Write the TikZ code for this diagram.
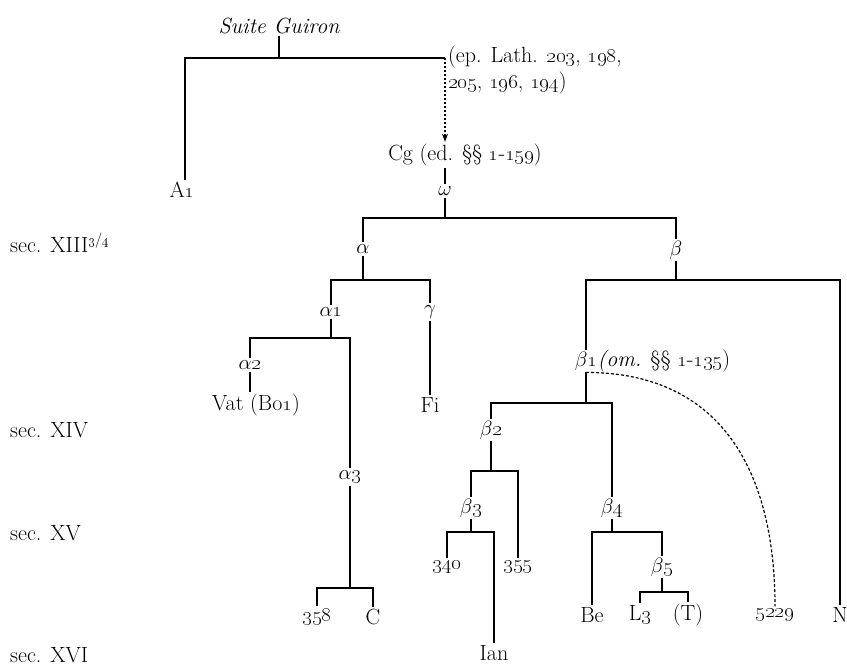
\documentclass[tikz,border=0pt]{standalone}
\usetikzlibrary{arrows.meta,positioning}
\newcommand{\os}[1]{\oldstylenums{#1}}
\tikzset{
  ms/.style={inner sep=2pt, font=\fontsize{22}{26}\selectfont},
  ital/.style={ms, font=\fontsize{22}{26}\selectfont\itshape},
  sec/.style={ms, anchor=west},
  stem/.style={line width=1.3pt, draw=black},
  guess/.style={line width=1.2pt, dash pattern=on 3pt off 2pt}
}

\begin{document}
\begin{tikzpicture}[x=1pt,y=-1pt]
  \useasboundingbox (0,0) rectangle (847,668);

  % centuries
  \node[sec] (s13) at (8,243) {sec. XIII\textsuperscript{\os{3}/\os{4}}};
  \node[sec] (s14) at (8,430) {sec. XIV};
  \node[sec] (s15) at (8,533) {sec. XV};
  \node[sec] (s16) at (8,655) {sec. XVI};

  % top of the stemma
  \node[ital] (suite) at (279,26) {Suite Guiron};
  \coordinate (tl) at (185,58);
  \coordinate (tr) at (445,58);
  \node[ms] (aone) at (182,190) {A\os{1}};
  \node[ms, anchor=west, align=left] (ep) at (446,70) {(ep. Lath. \os{203}, \os{198},\\\os{205}, \os{196}, \os{194})};
  \node[ms] (cg) at (465,155) {Cg (ed. \S\S~\os{1}-\os{159})};
  \node[ms] (omega) at (445,191) {$\omega$};

  % alpha branch
  \coordinate (bar1) at (0,218);
  \node[ms] (alpha) at (363,249) {$\alpha$};
  \node[ms] (beta) at (676,250) {$\beta$};
  \coordinate (bar2) at (0,280);
  \node[ms] (alphaone) at (331,312) {$\alpha$\os{1}};
  \node[ms] (gamma) at (430,312) {$\gamma$};
  \node[ms] (fi) at (430,405) {Fi};
  \coordinate (bar3) at (0,338);
  \node[ms] (alphatwo) at (250,365) {$\alpha$\os{2}};
  \node[ms] (vat) at (256,405) {Vat (Bo\os{1})};
  \node[ms] (alphathree) at (350,477) {$\alpha$\os{3}};
  \coordinate (bar4) at (0,588);
  \node[ms] (ms358) at (317,617) {\os{358}};
  \node[ms] (c) at (373,617) {C};

  % beta branch
  \node[ms] (betaone) at (586,361) {$\beta$\os{1}};
  \node[ms, anchor=base west, inner sep=0pt] (omnote) at ([xshift=-2pt]betaone.base east) {\textit{(om.} \S\S~\os{1}-\os{135})};
  \node[ms] (n) at (840,615) {N};
  \coordinate (bar5) at (0,403);
  \node[ms] (betatwo) at (491,430) {$\beta$\os{2}};
  \node[ms] (betafour) at (612,508) {$\beta$\os{4}};
  \coordinate (bar6) at (0,471);
  \node[ms] (betathree) at (471,508) {$\beta$\os{3}};
  \node[ms] (ms355) at (518,567) {\os{355}};
  \coordinate (bar7) at (0,532);
  \node[ms] (ms340) at (447,567) {\os{340}};
  \node[ms] (ian) at (494,653) {Ian};
  \node[ms] (be) at (592,615) {Be};
  \node[ms] (betafive) at (662,567) {$\beta$\os{5}};
  \coordinate (bar8) at (0,592);
  \node[ms] (lthree) at (640,615) {L\os{3}};
  \node[ms] (t) at (688,615) {(T)};
  \node[ms] (ms5229) at (775,615) {\os{5229}};

  % lines
  \draw[stem] (suite) -- (suite |- tl);
  \draw[stem] (aone.north -| tl) -- (tl) -- (tr);
  \draw[guess, dash pattern=on 2pt off 2pt, -{Stealth[length=8pt]}] (tr) -- (cg.north -| tr);
  \draw[stem] (cg.south -| omega) -- (omega.north);
  \draw[stem] (omega.south) -- (omega |- bar1);
  \draw[stem] (alpha.north) |- (beta |- bar1) -- (beta.north);
  \draw[stem] (alpha.south) -- (alpha |- bar2);
  \draw[stem] (alphaone.north) |- (gamma |- bar2) -- (gamma.north);
  \draw[stem] (gamma.south) -- (fi.north);
  \draw[stem] (beta.south) -- (beta |- bar2);
  \draw[stem] (betaone.north) |- (n |- bar2) -- (n.north);
  \draw[stem] (alphaone.south) -- (alphaone |- bar3);
  \draw[stem] (alphatwo.north) |- (alphathree |- bar3) -- (alphathree.north);
  \draw[stem] (alphatwo.south) -- (alphatwo.south |- vat.north);
  \draw[stem] (alphathree.south) -- (alphathree |- bar4);
  \draw[stem] (ms358.north) |- (c |- bar4) -- (c.north);
  \draw[stem] (betaone.south) -- (betaone |- bar5);
  \draw[stem] (betatwo.north) |- (betafour |- bar5) -- (betafour.north);
  \draw[stem] (betatwo.south) -- (betatwo |- bar6);
  \draw[stem] (betathree.north) |- (ms355 |- bar6) -- (ms355.north);
  \draw[stem] (betathree.south) -- (betathree |- bar7);
  \draw[stem] (ms340.north) |- (ian |- bar7) -- (ian.north);
  \draw[stem] (betafour.south) -- (betafour |- bar7);
  \draw[stem] (be.north) |- (betafive |- bar7) -- (betafive.north);
  \draw[stem] (betafive.south) -- (betafive |- bar8);
  \draw[stem] (lthree.north) |- (t |- bar8) -- (t.north);
  \draw[guess] (betaone.south) .. controls +(135,0) and +(0,-135) .. (ms5229.north);
\end{tikzpicture}
\end{document}
